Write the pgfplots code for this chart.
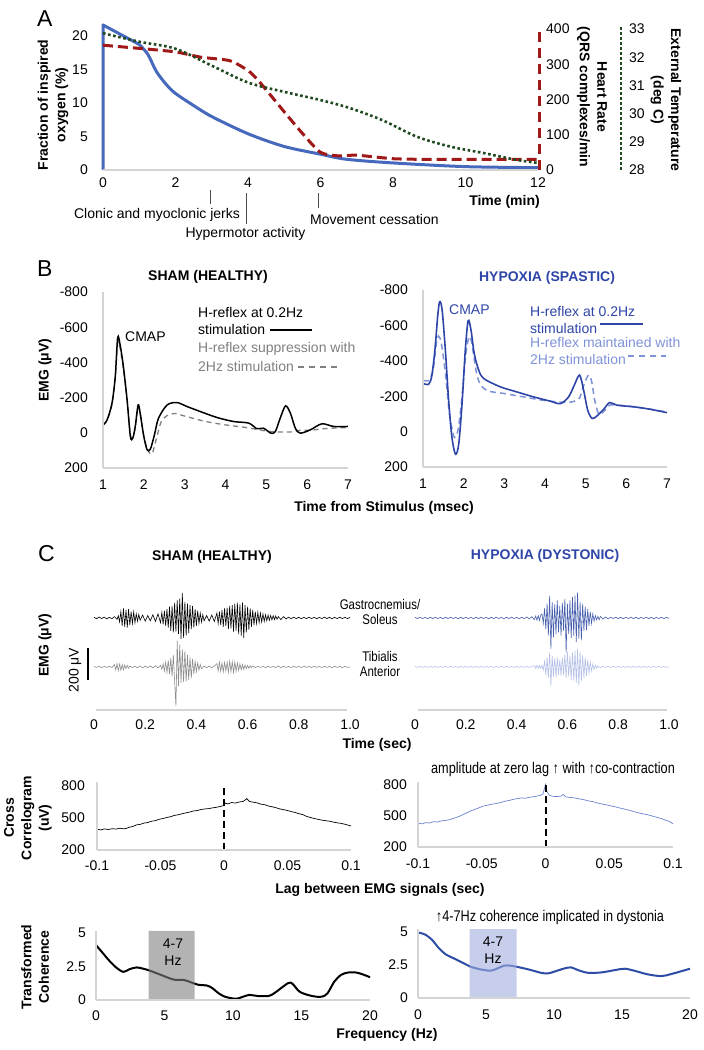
\documentclass[border=0pt]{standalone}
\usepackage{fontspec}
\setmainfont{Liberation Sans}
\newfontfamily\narrowfont[FakeStretch=0.82]{Liberation Sans}
\usepackage{pgfplots}
\pgfplotsset{compat=1.18}
\definecolor{oxblue}{HTML}{4668BD}
\definecolor{hrred}{HTML}{A01818}
\definecolor{tgreen}{HTML}{1F4A1F}
\definecolor{hypblue}{HTML}{2E45A8}
\definecolor{hyplight}{HTML}{7E92D8}
\definecolor{axgray}{HTML}{D4D4D4}
\definecolor{shamgray}{HTML}{7F7F7F}
\definecolor{emgblue}{HTML}{4860AC}
\definecolor{emglight}{HTML}{B5C0E6}
\definecolor{corrblue}{HTML}{6A82CE}
\definecolor{cohblue}{HTML}{2C4CA6}
\definecolor{bandgray}{HTML}{808080}
\definecolor{bandblue}{HTML}{A0ADDF}
\newcommand{\tk}{\fontsize{14}{17}\selectfont}
\newcommand{\tb}{\fontsize{14}{17.5}\selectfont\bfseries}
\newcommand{\pn}{\fontsize{23}{27}\selectfont}
\newcommand{\nw}{\narrowfont\fontsize{15.5}{18}\selectfont}
\newcommand{\mw}{\narrowfont\fontsize{14}{15}\selectfont}
\pgfplotsset{
  base/.style={scale only axis, clip=false, axis line style={draw=none},
    major tick length=0pt, tick style={draw=none},
    every tick label/.append style={font=\tk, inner sep=0pt},
    anchor=south west},
}
\begin{document}
\begin{tikzpicture}
\useasboundingbox (0,0) rectangle (704pt,1050pt);
% ================= PANEL A =================
\node[anchor=north west, inner sep=0pt, font=\pn] at (37pt,1040pt) {A};
\begin{axis}[base, at={(103pt,880pt)}, width=435pt, height=141pt,
  xmin=0, xmax=12, ymin=0, ymax=21,
  xtick={0,2,4,6,8,10,12}, xticklabels={0,2,4,6,8,10,12},
  ytick={0,5,10,15,20}, yticklabels={0,5,10,15,20},
  xticklabel style={anchor=north, yshift=-8pt},
  yticklabel style={anchor=east, xshift=-15pt}]
\addplot[oxblue, line width=3pt, line join=round] coordinates {(0,0)(0,21.6)(1.0,18.7)};
\addplot[oxblue, line width=3pt, smooth, tension=0.5] coordinates {(1.0,18.7)(1.24,17.2)(1.47,14.7)(1.75,12.7)(2,11.4)(2.5,9.6)(3,7.96)(4,5.4)(5,3.5)(6,2.35)(6.71,1.6)(8,1.05)(10,0.5)(12,0.35)};
\end{axis}
\begin{axis}[base, at={(103pt,880pt)}, width=435pt, height=141pt,
  xmin=0, xmax=12, ymin=0, ymax=400, xtick=\empty,
  ytick={0,100,200,300,400}, yticklabels={0,100,200,300,400},
  yticklabel pos=right, yticklabel style={anchor=west, xshift=8pt}]
\addplot[hrred, line width=3pt, dash pattern=on 10pt off 5pt, smooth, tension=0.4] coordinates {(0,354)(1,345)(2,335)(2.7,320)(3.5,310)(4,282)(4.3,252)(5,165)(5.5,104)(6,50)(6.5,40)(7,42)(8,32)(9,30)(10,30)(11,30)(12,30)};
\end{axis}
\begin{axis}[base, at={(103pt,880pt)}, width=518pt, height=141pt,
  xmin=0, xmax=14.29, ymin=28, ymax=33, xtick=\empty,
  ytick={28,29,30,31,32,33}, yticklabels={28,29,30,31,32,33},
  yticklabel pos=right, yticklabel style={anchor=west, xshift=8pt}]
\addplot[tgreen, line width=2.6pt, dash pattern=on 2.6pt off 2.6pt, smooth] coordinates {(0,32.85)(1,32.55)(2,32.3)(3,31.7)(4,31.1)(5,30.77)(6,30.48)(6.8,30.2)(7.7,29.77)(8.66,29.18)(9.58,28.83)(10.5,28.6)(11.4,28.36)(12,28.25)};
\end{axis}
\draw[axgray, line width=1.2pt] (103pt,880pt) -- (538pt,880pt);
\draw[hrred, line width=3pt, dash pattern=on 10pt off 6pt] (539pt,880pt) -- (539pt,1022pt);
\draw[tgreen, line width=2.6pt, dash pattern=on 2.6pt off 2.4pt] (621pt,880pt) -- (621pt,1024pt);
\node[font=\tb, rotate=90, align=center] at (53pt,945pt) {Fraction of inspired\\oxygen (\%)};
\node[font=\tb, rotate=-90, align=center] at (592pt,953pt) {Heart Rate\\(QRS complexes/min};
\node[font=\tb, rotate=-90, align=center] at (666pt,950pt) {External Temperature\\(deg C)};
\node[font=\tb, anchor=east, inner sep=0pt] at (540pt,848pt) {Time (min)};
\draw[black!70, line width=0.8pt] (210pt,860pt) -- (210pt,846pt);
\draw[black!70, line width=0.8pt] (246pt,857pt) -- (246pt,826pt);
\draw[black!70, line width=0.8pt] (318pt,857pt) -- (318pt,842pt);
\node[font=\tk, inner sep=0pt] at (157pt,835pt) {Clonic and myoclonic jerks};
\node[font=\tk, inner sep=0pt] at (245.5pt,816pt) {Hypermotor activity};
\node[font=\tk, inner sep=0pt, anchor=west] at (310pt,830pt) {Movement cessation};
% ================= PANEL B =================
\node[anchor=north west, inner sep=0pt, font=\pn] at (37pt,790pt) {B};
\node[font=\tb] at (208pt,773pt) {SHAM (HEALTHY)};
\node[font=\tb, text=hypblue] at (547pt,772pt) {HYPOXIA (SPASTIC)};
\begin{axis}[base, at={(103pt,582pt)}, width=245pt, height=176pt,
  xmin=1, xmax=7, ymin=-800, ymax=200, y dir=reverse,
  xtick={1,2,3,4,5,6,7}, xticklabels={1,2,3,4,5,6,7},
  ytick={-800,-600,-400,-200,0,200}, yticklabels={-800,-600,-400,-200,0,200},
  xticklabel style={anchor=north, yshift=-12pt},
  yticklabel style={anchor=east, xshift=-15pt}]
\addplot[shamgray, line width=1.3pt, dash pattern=on 5pt off 4pt, smooth, tension=0.5] coordinates {(1,-45)(1.1,-70)(1.22,-160)(1.3,-310)(1.36,-510)(1.42,-480)(1.5,-360)(1.6,-170)(1.67,10)(1.73,25)(1.79,-30)(1.86,-150)(1.92,-100)(2.0,20)(2.1,100)(2.2,120)(2.3,40)(2.42,-60)(2.55,-95)(2.75,-110)(3.0,-95)(3.5,-65)(4.0,-45)(4.5,-30)(5.0,-10)(5.3,-5)(5.6,-5)(5.85,-15)(6.1,-15)(6.5,-25)(7,-30)};
\addplot[black, line width=1.5pt, smooth, tension=0.5] coordinates {(1,-45)(1.1,-73)(1.22,-168)(1.3,-319)(1.36,-541)(1.42,-498)(1.5,-375)(1.59,-187)(1.67,21)(1.73,30)(1.79,-36)(1.86,-158)(1.91,-111)(2.0,21)(2.08,96)(2.16,93)(2.26,11)(2.36,-83)(2.57,-158)(2.81,-172)(3.06,-149)(3.38,-121)(3.79,-87)(4.2,-64)(4.57,-55)(4.77,-23)(4.93,-26)(5.11,2)(5.22,-7)(5.34,-83)(5.47,-153)(5.59,-111)(5.71,-26)(5.83,2)(6.08,-17)(6.36,-51)(6.65,-36)(7,-36)};
\end{axis}
\draw[axgray, line width=1.2pt] (103pt,582pt) -- (103pt,758pt);
\draw[axgray, line width=1.2pt] (103pt,582pt) -- (348pt,582pt);
\node[font=\tb, rotate=90] at (45pt,680pt) {EMG (μV)};
\node[font=\tk, anchor=west, inner sep=0pt] at (125pt,713pt) {CMAP};
\node[font=\tk, anchor=west, inner sep=0pt] at (198pt,737pt) {H-reflex at 0.2Hz};
\node[font=\tk, anchor=west, inner sep=0pt] at (198pt,720pt) {stimulation};
\draw[black, line width=2pt] (270pt,720pt) -- (312pt,720pt);
\node[font=\tk, anchor=west, inner sep=0pt, text=shamgray] at (198pt,701pt) {H-reflex suppression with};
\node[font=\tk, anchor=west, inner sep=0pt, text=shamgray] at (198pt,683pt) {2Hz stimulation};
\draw[shamgray, line width=1.5pt, dash pattern=on 6pt off 5pt] (298pt,683pt) -- (337pt,683pt);
\begin{axis}[base, at={(423pt,583pt)}, width=244pt, height=177pt,
  xmin=1, xmax=7, ymin=-800, ymax=200, y dir=reverse,
  xtick={1,2,3,4,5,6,7}, xticklabels={1,2,3,4,5,6,7},
  ytick={-800,-600,-400,-200,0,200}, yticklabels={-800,-600,-400,-200,0,200},
  xticklabel style={anchor=north, yshift=-12pt},
  yticklabel style={anchor=east, xshift=-15pt}]
\addplot[hyplight, line width=1.5pt, dash pattern=on 6pt off 4pt, smooth, tension=0.5] coordinates {(1,-290)(1.14,-290)(1.25,-350)(1.33,-500)(1.38,-540)(1.45,-500)(1.55,-330)(1.65,-100)(1.75,20)(1.8,30)(1.87,-20)(1.96,-200)(2.05,-430)(2.13,-535)(2.2,-500)(2.3,-350)(2.4,-270)(2.6,-230)(3,-215)(3.5,-195)(4,-175)(4.5,-165)(4.7,-170)(4.85,-190)(4.95,-260)(5.07,-319)(5.15,-280)(5.22,-180)(5.32,-100)(5.45,-115)(5.6,-150)(6,-145)(6.5,-130)(7,-110)};
\addplot[hypblue, line width=1.6pt, smooth, tension=0.5] coordinates {(1,-272)(1.14,-268)(1.22,-319)(1.3,-479)(1.36,-649)(1.41,-734)(1.47,-687)(1.55,-460)(1.63,-177)(1.71,30)(1.8,128)(1.88,68)(1.96,-158)(2.04,-460)(2.11,-626)(2.18,-574)(2.26,-441)(2.37,-347)(2.49,-300)(2.9,-253)(3.31,-224)(3.72,-196)(4.13,-172)(4.38,-158)(4.58,-196)(4.72,-262)(4.85,-319)(4.95,-234)(5.05,-121)(5.16,-74)(5.28,-89)(5.44,-125)(5.59,-164)(5.77,-149)(6.18,-140)(6.59,-126)(7,-107)};
\end{axis}
\draw[axgray, line width=1.2pt] (423pt,583pt) -- (423pt,760pt);
\draw[axgray, line width=1.2pt] (423pt,583pt) -- (667pt,583pt);
\node[font=\tk, anchor=west, inner sep=0pt, text=hypblue] at (449pt,740pt) {CMAP};
\node[font=\tk, anchor=west, inner sep=0pt, text=hypblue] at (530pt,738pt) {H-reflex at 0.2Hz};
\node[font=\tk, anchor=west, inner sep=0pt, text=hypblue] at (530pt,721pt) {stimulation};
\draw[hypblue, line width=2pt] (600pt,726pt) -- (643pt,726pt);
\node[font=\tk, anchor=west, inner sep=0pt, text=hyplight] at (530pt,707pt) {H-reflex maintained with};
\node[font=\tk, anchor=west, inner sep=0pt, text=hyplight] at (530pt,690pt) {2Hz stimulation};
\draw[hyplight, line width=1.5pt, dash pattern=on 6pt off 5pt] (628pt,694pt) -- (666pt,694pt);
\node[font=\tb] at (384pt,542pt) {Time from Stimulus (msec)};
% ================= PANEL C =================
\node[anchor=north west, inner sep=0pt, font=\pn] at (38pt,505pt) {C};
\node[font=\tb] at (212pt,493pt) {SHAM (HEALTHY)};
\node[font=\tb, text=hypblue] at (545pt,494pt) {HYPOXIA (DYSTONIC)};
\begin{axis}[base, at={(94pt,340pt)}, width=256pt, height=126pt,
  xmin=0, xmax=1, ymin=-575, ymax=212, ytick=\empty,
  xtick={0,0.2,0.4,0.6,0.8,1}, xticklabels={0,0.2,0.4,0.6,0.8,1.0},
  xticklabel style={anchor=north, yshift=-10pt}]
\addplot[black, line width=0.6pt] coordinates {(0,4)(0.01,-5)(0.02,6)(0.03,-4)(0.04,5)(0.05,-6)(0.06,4)(0.07,-5)(0.08,8)(0.09,-9)(0.095,14)
(0.1,-25)(0.105,40)(0.11,-50)(0.115,60)(0.12,-55)(0.125,50)(0.13,-60)(0.135,55)(0.14,-45)(0.145,40)(0.15,-35)(0.155,38)(0.16,-30)(0.165,25)(0.17,-20)(0.175,22)(0.18,-15)
(0.19,18)(0.2,-20)(0.21,15)(0.22,-18)(0.23,20)(0.24,-22)(0.25,25)
(0.26,-30)(0.265,35)(0.27,-40)(0.275,45)(0.28,-50)(0.285,55)(0.29,-60)(0.295,70)(0.3,-80)(0.305,75)(0.31,-90)(0.315,95)(0.32,-85)(0.325,110)(0.33,-100)(0.335,120)(0.34,-130)(0.345,156)(0.35,-125)(0.355,100)(0.36,-110)(0.365,90)(0.37,-95)(0.375,80)(0.38,-70)(0.385,75)(0.39,-60)(0.395,55)(0.4,-50)(0.405,45)(0.41,-35)(0.415,30)(0.42,-25)(0.425,20)
(0.43,-18)(0.44,15)(0.45,-20)(0.46,18)(0.47,-22)
(0.48,30)(0.485,-35)(0.49,40)(0.495,-45)(0.5,50)(0.505,-55)(0.51,60)(0.515,-50)(0.52,65)(0.525,-70)(0.53,75)(0.535,-65)(0.54,80)(0.545,-85)(0.55,90)(0.555,-80)(0.56,95)(0.565,-100)(0.57,85)(0.575,-110)(0.58,95)(0.585,-125)(0.59,80)(0.595,-90)(0.6,70)(0.605,-75)(0.61,60)(0.615,-55)(0.62,50)(0.625,-45)(0.63,40)(0.635,-35)(0.64,35)(0.645,-30)(0.65,30)(0.655,-25)(0.66,25)(0.665,-22)(0.67,20)(0.675,-18)(0.68,18)(0.685,-15)(0.69,15)(0.695,-12)(0.7,14)(0.705,-10)(0.71,12)(0.715,-8)
(0.72,8)(0.73,-10)(0.74,8)(0.75,-6)(0.76,5)(0.77,-5)(0.78,5)(0.79,-4)(0.8,4)(0.81,-5)(0.82,4)(0.83,-4)(0.84,5)(0.85,-4)(0.86,4)(0.87,-5)(0.88,4)(0.89,-4)(0.9,5)(0.91,-4)(0.92,4)(0.93,-5)(0.94,4)(0.95,-4)(0.96,5)(0.97,-4)(0.98,4)(0.99,-4)(1,3)};
\addplot[black!45, line width=0.6pt] coordinates {(0,-303)(0.01,-309)(0.02,-302)(0.03,-310)(0.04,-303)(0.05,-309)(0.06,-302)(0.07,-310)
(0.08,-291)(0.085,-324)(0.09,-286)(0.095,-328)(0.1,-288)(0.105,-326)(0.11,-291)(0.115,-324)(0.12,-294)(0.125,-316)(0.13,-296)(0.135,-314)(0.14,-300)
(0.15,-310)(0.16,-301)(0.17,-311)(0.18,-300)(0.19,-312)(0.2,-301)(0.21,-310)(0.22,-300)(0.23,-312)(0.24,-299)(0.25,-313)
(0.26,-296)(0.265,-321)(0.27,-286)(0.275,-331)(0.28,-276)(0.285,-341)(0.29,-266)(0.295,-351)(0.3,-251)(0.305,-366)(0.31,-231)(0.315,-396)(0.32,-550)(0.325,-144)(0.33,-426)(0.335,-166)(0.34,-406)(0.345,-196)(0.35,-401)(0.355,-206)(0.36,-396)(0.365,-231)(0.37,-386)(0.375,-246)(0.38,-376)(0.385,-256)(0.39,-351)(0.395,-271)(0.4,-336)(0.405,-281)(0.41,-326)(0.415,-291)(0.42,-318)
(0.43,-300)(0.44,-311)(0.45,-301)(0.46,-311)(0.47,-300)
(0.48,-286)(0.485,-331)(0.49,-276)(0.495,-334)(0.5,-281)(0.505,-336)(0.51,-278)(0.515,-331)(0.52,-276)(0.525,-338)(0.53,-271)(0.535,-336)(0.54,-274)(0.545,-341)(0.55,-276)(0.555,-334)(0.56,-281)(0.565,-328)(0.57,-286)(0.575,-324)(0.58,-291)(0.585,-321)(0.59,-294)(0.595,-316)(0.6,-296)(0.605,-314)(0.61,-298)(0.615,-312)(0.62,-300)
(0.63,-310)(0.64,-302)(0.65,-309)(0.66,-303)(0.67,-310)(0.68,-302)(0.69,-309)(0.7,-303)(0.71,-310)(0.72,-300)(0.73,-311)(0.74,-302)(0.75,-309)(0.76,-303)(0.77,-310)(0.78,-302)(0.79,-309)(0.8,-303)(0.81,-310)(0.82,-302)(0.83,-309)(0.84,-303)(0.85,-310)(0.86,-302)(0.87,-309)(0.88,-303)(0.89,-310)(0.9,-302)(0.91,-309)(0.92,-303)(0.93,-310)(0.94,-302)(0.95,-309)(0.96,-303)(0.97,-310)(0.98,-302)(0.99,-309)(1,-305)};
\draw[black, line width=2pt] (axis cs:-0.024,-190) -- (axis cs:-0.024,-390);
\end{axis}
\draw[axgray, line width=1.5pt] (96pt,340pt) -- (347pt,340pt);
\node[font=\tb, rotate=90] at (45pt,405pt) {EMG (μV)};
\node[font=\tk, rotate=90] at (75pt,380pt) {200 μV};
\node[font=\mw, align=center] at (380pt,438pt) {Gastrocnemius/\\Soleus};
\node[font=\mw, align=center] at (380pt,386pt) {Tibialis\\Anterior};
\begin{axis}[base, at={(415pt,340pt)}, width=254pt, height=126pt,
  xmin=0, xmax=1, ymin=-575, ymax=212, ytick=\empty,
  xtick={0,0.2,0.4,0.6,0.8,1}, xticklabels={0,0.2,0.4,0.6,0.8,1.0},
  xticklabel style={anchor=north, yshift=-10pt}]
\addplot[emgblue, line width=0.6pt] coordinates {(0,4)(0.01,-4)(0.02,5)(0.03,-4)(0.04,4)(0.05,-5)(0.06,4)(0.07,-4)(0.08,5)(0.09,-4)(0.1,4)(0.11,-5)(0.12,4)(0.13,-4)(0.14,5)(0.15,-4)(0.16,4)(0.17,-5)(0.18,4)(0.19,-4)(0.2,5)(0.21,-4)(0.22,4)(0.23,-5)(0.24,4)(0.25,-4)(0.26,5)(0.27,-4)(0.28,4)(0.29,-5)(0.3,4)(0.31,-4)(0.32,5)(0.33,-4)(0.34,4)(0.35,-5)(0.36,4)(0.37,-4)(0.38,5)(0.39,-4)(0.4,4)(0.41,-5)(0.42,4)(0.43,-4)(0.44,6)(0.45,-6)(0.46,8)(0.47,-10)(0.475,12)(0.48,-14)(0.485,15)(0.49,-16)(0.495,18)
(0.5,25)(0.505,-35)(0.51,60)(0.515,-70)(0.52,90)(0.525,-110)(0.53,137)(0.535,-194)(0.54,100)(0.545,-120)(0.55,85)(0.555,-100)(0.56,110)(0.565,-90)(0.57,75)(0.575,-110)(0.58,95)(0.585,-80)(0.59,120)(0.595,-217)(0.6,90)(0.605,-100)(0.61,110)(0.615,-125)(0.62,130)(0.625,-110)(0.63,140)(0.635,-150)(0.64,158)(0.645,-130)(0.65,100)(0.655,-140)(0.66,90)(0.665,-80)(0.67,70)(0.675,-75)(0.68,55)(0.685,-50)(0.69,40)(0.695,-35)(0.7,25)(0.705,-20)(0.71,15)(0.715,-12)
(0.72,10)(0.725,-12)(0.73,10)(0.74,-8)(0.75,6)(0.76,-5)(0.77,4)(0.78,-4)(0.79,5)(0.8,-4)(0.81,4)(0.82,-5)(0.83,4)(0.84,-4)(0.85,5)(0.86,-4)(0.87,4)(0.88,-5)(0.89,4)(0.9,-4)(0.91,5)(0.92,-4)(0.93,4)(0.94,-5)(0.95,4)(0.96,-4)(0.97,5)(0.98,-4)(0.99,4)(1,-3)};
\addplot[emglight, line width=0.6pt] coordinates {(0,-303)(0.01,-309)(0.02,-303)(0.03,-309)(0.04,-303)(0.05,-309)(0.06,-303)(0.07,-309)(0.08,-303)(0.09,-309)(0.1,-303)(0.11,-309)(0.12,-303)(0.13,-309)(0.14,-303)(0.15,-309)(0.16,-303)(0.17,-309)(0.18,-303)(0.19,-309)(0.2,-303)(0.21,-309)(0.22,-303)(0.23,-309)(0.24,-303)(0.25,-309)(0.26,-303)(0.27,-309)(0.28,-303)(0.29,-309)(0.3,-303)(0.31,-309)(0.32,-303)(0.33,-309)(0.34,-303)(0.35,-309)(0.36,-303)(0.37,-309)(0.38,-303)(0.39,-309)(0.4,-303)(0.41,-309)(0.42,-303)(0.43,-309)(0.44,-303)(0.45,-309)(0.46,-303)(0.47,-298)(0.475,-314)(0.48,-296)(0.485,-316)(0.49,-297)(0.495,-315)
(0.5,-296)(0.505,-326)(0.51,-271)(0.515,-356)(0.52,-246)(0.525,-376)(0.53,-216)(0.535,-424)(0.54,-236)(0.545,-366)(0.55,-251)(0.555,-371)(0.56,-246)(0.565,-356)(0.57,-261)(0.575,-361)(0.58,-246)(0.585,-356)(0.59,-226)(0.595,-376)(0.6,-211)(0.605,-366)(0.61,-236)(0.615,-386)(0.62,-216)(0.625,-391)(0.63,-206)(0.635,-406)(0.64,-194)(0.645,-424)(0.65,-211)(0.655,-396)(0.66,-231)(0.665,-376)(0.67,-246)(0.675,-361)(0.68,-261)(0.685,-346)(0.69,-276)(0.695,-331)(0.7,-288)(0.705,-321)(0.71,-296)(0.715,-314)
(0.72,-300)(0.73,-310)(0.74,-303)(0.75,-309)(0.76,-303)(0.77,-309)(0.78,-303)(0.79,-309)(0.8,-303)(0.81,-309)(0.82,-303)(0.83,-309)(0.84,-303)(0.85,-309)(0.86,-303)(0.87,-309)(0.88,-303)(0.89,-309)(0.9,-303)(0.91,-309)(0.92,-303)(0.93,-309)(0.94,-303)(0.95,-309)(0.96,-303)(0.97,-309)(0.98,-303)(0.99,-309)(1,-305)};
\end{axis}
\draw[axgray, line width=1.5pt] (418pt,340pt) -- (667pt,340pt);
\node[font=\tb] at (377pt,305pt) {Time (sec)};
% --- cross correlograms ---
\begin{axis}[base, at={(97pt,200pt)}, width=254pt, height=64pt,
  xmin=-0.1, xmax=0.1, ymin=200, ymax=800,
  xtick={-0.1,-0.05,0,0.05,0.1}, xticklabels={-0.1,-0.05,0,0.05,0.1},
  ytick={200,500,800}, yticklabels={200,500,800},
  xticklabel style={anchor=north, yshift=-11pt},
  yticklabel style={anchor=east, xshift=-12pt}]
\addplot[black, line width=0.7pt] coordinates {(-0.1,395)(-0.097,388)(-0.094,398)(-0.091,392)(-0.088,400)(-0.085,396)(-0.082,404)(-0.079,398)(-0.077,402)(-0.075,412)(-0.072,420)(-0.069,435)(-0.066,440)(-0.063,452)(-0.06,458)(-0.057,470)(-0.054,475)(-0.051,488)(-0.048,495)(-0.045,505)(-0.042,512)(-0.039,525)(-0.036,530)(-0.033,540)(-0.03,548)(-0.027,556)(-0.024,566)(-0.021,570)(-0.018,580)(-0.015,585)(-0.012,588)(-0.009,595)(-0.006,600)(-0.003,608)(0,618)(0.001,640)(0.003,632)(0.006,645)(0.009,640)(0.012,650)(0.015,655)(0.017,672)(0.018,682)(0.02,655)(0.023,648)(0.026,642)(0.029,630)(0.032,625)(0.035,612)(0.038,605)(0.041,596)(0.044,585)(0.047,578)(0.05,570)(0.053,560)(0.056,552)(0.059,540)(0.062,532)(0.065,515)(0.068,505)(0.071,495)(0.074,488)(0.077,480)(0.08,475)(0.083,470)(0.086,462)(0.089,455)(0.092,450)(0.095,442)(0.098,432)(0.1,425)};
\addplot[black, line width=2pt, dash pattern=on 7pt off 4pt] coordinates {(0,200)(0,815)};
\end{axis}
\draw[axgray, line width=1.2pt] (97pt,200pt) -- (97pt,268pt);
\draw[axgray, line width=1.2pt] (97pt,200pt) -- (351pt,200pt);
\begin{axis}[base, at={(418pt,203pt)}, width=255pt, height=62pt,
  xmin=-0.1, xmax=0.1, ymin=200, ymax=800,
  xtick={-0.1,-0.05,0,0.05,0.1}, xticklabels={-0.1,-0.05,0,0.05,0.1},
  ytick={200,500,800}, yticklabels={200,500,800},
  xticklabel style={anchor=north, yshift=-12pt},
  yticklabel style={anchor=east, xshift=-11pt}]
\addplot[corrblue, line width=0.7pt] coordinates {(-0.1,430)(-0.097,424)(-0.094,436)(-0.091,432)(-0.088,445)(-0.085,442)(-0.082,452)(-0.079,456)(-0.076,462)(-0.073,474)(-0.07,486)(-0.067,500)(-0.064,518)(-0.061,535)(-0.058,552)(-0.055,566)(-0.052,580)(-0.049,595)(-0.046,603)(-0.043,612)(-0.04,618)(-0.037,625)(-0.034,635)(-0.031,645)(-0.028,652)(-0.025,662)(-0.022,668)(-0.019,675)(-0.016,672)(-0.013,680)(-0.01,686)(-0.007,692)(-0.004,700)(-0.002,712)(0,805)(0.001,740)(0.003,700)(0.006,690)(0.009,688)(0.012,692)(0.014,708)(0.016,685)(0.019,680)(0.022,676)(0.025,670)(0.028,662)(0.031,655)(0.034,645)(0.037,640)(0.04,628)(0.043,620)(0.046,612)(0.049,604)(0.052,596)(0.055,588)(0.058,578)(0.061,570)(0.064,560)(0.067,552)(0.07,540)(0.073,530)(0.076,522)(0.079,515)(0.082,506)(0.085,495)(0.088,485)(0.091,475)(0.094,460)(0.097,448)(0.1,425)};
\addplot[black, line width=2pt, dash pattern=on 7pt off 4pt] coordinates {(0,200)(0,815)};
\end{axis}
\draw[axgray, line width=1.2pt] (418pt,203pt) -- (418pt,268pt);
\draw[axgray, line width=1.2pt] (418pt,203pt) -- (673pt,203pt);
\node[font=\nw] at (553pt,281pt) {amplitude at zero lag ↑ with ↑co-contraction};
\node[font=\tb, rotate=90, align=center] at (28pt,232pt) {Cross\\Correlogram\\(uV)};
\node[font=\tb] at (380pt,160pt) {Lag between EMG signals (sec)};
% --- coherence ---
\begin{axis}[base, at={(96pt,50pt)}, width=274pt, height=69pt,
  xmin=0, xmax=20, ymin=0, ymax=5.15,
  xtick={0,5,10,15,20}, xticklabels={0,5,10,15,20},
  ytick={0,2.5,5}, yticklabels={0,2.5,5},
  xticklabel style={anchor=north, yshift=-11pt},
  yticklabel style={anchor=east, xshift=-10pt}]
\addplot[black, line width=2pt, smooth] coordinates {(0,4.1)(0.5,3.5)(1,2.9)(1.5,2.4)(2,2.1)(2.45,2.3)(2.95,2.43)(3.4,2.35)(3.9,2.2)(4.6,1.93)(5.35,1.63)(5.8,1.5)(6.4,1.5)(6.9,1.33)(7.5,1.13)(8.1,1.08)(8.5,0.88)(8.95,0.5)(9.4,0.25)(9.9,0.13)(10.3,0.1)(10.75,0.25)(11.2,0.38)(11.8,0.3)(12.6,0.3)(13,0.5)(13.5,0.88)(14,1.25)(14.2,1.3)(14.4,1.15)(14.85,0.63)(15.45,0.38)(16.05,0.25)(16.5,0.25)(16.9,0.5)(17.4,1.38)(17.9,1.88)(18.4,2.05)(19,2.05)(19.5,1.9)(20,1.7)};
\addplot[fill=bandgray, fill opacity=0.6, draw=none] coordinates {(3.85,0)(3.85,5.15)(7.2,5.15)(7.2,0)} \closedcycle;
\end{axis}
\draw[axgray, line width=1.2pt] (96pt,50pt) -- (96pt,119pt);
\draw[axgray, line width=1.2pt] (96pt,50pt) -- (370pt,50pt);
\node[font=\tk, align=center] at (173pt,98pt) {4-7\\Hz};
\begin{axis}[base, at={(418pt,52pt)}, width=272pt, height=69pt,
  xmin=0, xmax=20, ymin=0, ymax=5.23,
  xtick={0,5,10,15,20}, xticklabels={0,5,10,15,20},
  ytick={0,2.5,5}, yticklabels={0,2.5,5},
  xticklabel style={anchor=north, yshift=-12pt},
  yticklabel style={anchor=east, xshift=-10pt}]
\addplot[cohblue, line width=2pt, smooth] coordinates {(0,4.97)(0.54,4.8)(1.03,4.41)(1.53,3.78)(2.02,3.32)(2.64,3.0)(3.37,2.63)(3.87,2.37)(4.6,2.17)(5.34,2.07)(5.84,2.24)(6.33,2.45)(6.82,2.45)(7.56,2.3)(8.3,2.12)(9.04,1.91)(9.53,1.86)(10,1.99)(10.76,2.24)(11.26,2.32)(11.75,2.12)(12.5,1.91)(13.5,1.94)(14.5,2.12)(15.2,2.22)(15.9,2.07)(16.9,1.79)(17.9,1.66)(18.6,1.81)(19.4,2.04)(20,2.22)};
\addplot[fill=bandblue, fill opacity=0.6, draw=none] coordinates {(3.8,0)(3.8,5.23)(7.25,5.23)(7.25,0)} \closedcycle;
\end{axis}
\draw[axgray, line width=1.2pt] (418pt,52pt) -- (418pt,121pt);
\draw[axgray, line width=1.2pt] (418pt,52pt) -- (690pt,52pt);
\node[font=\tk, align=center] at (493pt,100pt) {4-7\\Hz};
\node[font=\nw] at (550pt,133pt) {↑4-7Hz coherence implicated in dystonia};
\node[font=\tb, rotate=90, align=center] at (35pt,83pt) {Transformed\\Coherence};
\node[font=\tb] at (387pt,15pt) {Frequency (Hz)};
\end{tikzpicture}
\end{document}
